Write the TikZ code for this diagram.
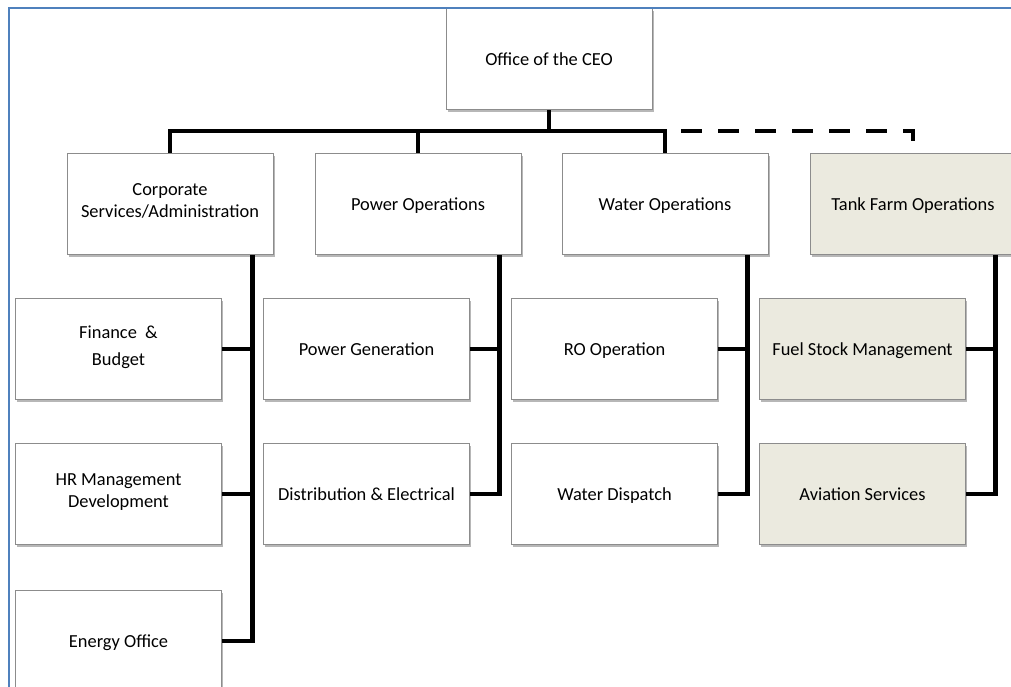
\documentclass[tikz,border=0pt]{standalone}
\usepackage{fontspec}
\setmainfont{Carlito}
\usetikzlibrary{shadows,calc}
\definecolor{framebl}{HTML}{4F81BD}
\definecolor{boxline}{HTML}{8C8C8C}
\definecolor{beige}{HTML}{EBEADF}
\tikzset{
  orgbox/.style={rectangle, draw=boxline, line width=0.8pt, fill=white,
    minimum width=206pt, minimum height=101pt, inner sep=2pt, align=center,
    font=\fontsize{18.4}{21.5}\selectfont,
    execute at begin node={\rule{0pt}{19pt}}, execute at end node=\strut,
    drop shadow={shadow xshift=1.5pt, shadow yshift=-2.5pt, opacity=0.4, fill=black!70}},
  tankbox/.style={orgbox, fill=beige},
  conn/.style={line width=4.8pt, black, line join=miter},
  dashconn/.style={conn, dash pattern=on 21pt off 16pt, dash phase=21pt},
  framelines/.style={draw=framebl, line width=2.4pt}
}
\begin{document}
\begin{tikzpicture}[x=1pt,y=-1pt]
\clip (0,0) rectangle (1011,687);
\fill[white] (0,0) rectangle (1011,687);
% level 1
\node[orgbox] (ceo) at (549,59) {Office of the CEO};
% level 2
\node[orgbox] (corp) at (170,204) {Corporate\\Services/Administration};
\node[orgbox] (power) at (418,204) {Power Operations};
\node[orgbox] (water) at (665,204) {Water Operations};
\node[tankbox] (tank) at (913,204) {Tank Farm Operations};
% level 3
\node[orgbox] (fin) at (118.5,349) {Finance \ \&\\[5pt]Budget};
\node[orgbox] (hr) at (118.5,494) {HR Management\\Development};
\node[orgbox] (energy) at (118.5,641) {Energy Office};
\node[orgbox] (pgen) at (366.5,349) {Power Generation};
\node[orgbox] (dist) at (366.5,494) {Distribution \& Electrical};
\node[orgbox] (ro) at (614.5,349) {RO Operation};
\node[orgbox] (wdisp) at (614.5,494) {Water Dispatch};
\node[tankbox] (fuel) at (862.5,349) {Fuel Stock Management};
\node[tankbox] (avia) at (862.5,494) {Aviation Services};
% top bus
\coordinate (bus) at (548,131);
\draw[conn] (ceo.south) -- (ceo.south |- bus);
\draw[conn] (corp.north) |- (water.north |- bus) -- (water.north);
\draw[conn] (power.north) -- (power.north |- bus);
\coordinate (tankend) at ($(tank.north)+(0,-12)$);
\draw[dashconn] (water.north |- bus) -| (tankend);
% vertical spines
\coordinate (cv) at ([xshift=-21pt]corp.south east);
\coordinate (pv) at ([xshift=-22pt]power.south east);
\coordinate (wv) at ([xshift=-21pt]water.south east);
\coordinate (tv) at ([xshift=-21pt]tank.south east);
\draw[conn] (cv) |- (energy.east);
\draw[conn] (fin.east) -- (fin.east -| cv);
\draw[conn] (hr.east) -- (hr.east -| cv);
\draw[conn] (pv) |- (dist.east);
\draw[conn] (pgen.east) -- (pgen.east -| pv);
\draw[conn] (wv) |- (wdisp.east);
\draw[conn] (ro.east) -- (ro.east -| wv);
\draw[conn] (tv) |- (avia.east);
\draw[conn] (fuel.east) -- (fuel.east -| tv);
% frame
\draw[framelines] (9,690) -- (9,8) -- (1015,8);
\end{tikzpicture}
\end{document}
